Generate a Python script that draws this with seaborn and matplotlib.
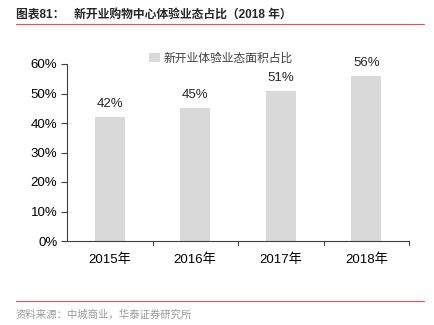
import matplotlib
matplotlib.use("Agg")
import matplotlib.pyplot as plt
import seaborn as sns
import pandas as pd
from matplotlib.lines import Line2D
from matplotlib.ticker import PercentFormatter

categories = ["2015年", "2016年", "2017年", "2018年"]
values = [0.42, 0.45, 0.51, 0.56]
series_name = "新开业体验业态面积占比"
title = "图表81：   新开业购物中心体验业态占比（2018 年）"
source = "资料来源：中城商业，华泰证券研究所"

sns.set_theme(style="white")
plt.rcParams['font.family'] = ['Liberation Sans', 'Noto Sans CJK SC', 'DejaVu Sans']

df = pd.DataFrame({"year": categories, "share": values})

fig = plt.figure(figsize=(4.34, 3.25), dpi=100)
ax = fig.add_axes([67/434, 1-241/325, (409-67)/434, (241-64)/325])

sns.barplot(data=df, x="year", y="share", color="#d9d9d9", width=0.35,
            saturation=1, ax=ax, label=series_name, edgecolor="none")

ax.set_ylim(0, 0.6)
ax.set_xlim(-0.5, 3.5)
ax.yaxis.set_major_formatter(PercentFormatter(1.0, decimals=0))
ax.set_yticks([0, 0.1, 0.2, 0.3, 0.4, 0.5, 0.6])
ax.set_xlabel("")
ax.set_ylabel("")
for s in ["top", "right"]:
    ax.spines[s].set_visible(False)
for s in ["left", "bottom"]:
    ax.spines[s].set_color("#404040")
    ax.spines[s].set_linewidth(0.8)

ax.tick_params(axis="y", left=True, length=4, width=0.8, color="#404040",
               labelsize=9.5, labelcolor="black", pad=3)
ax.set_xticks([0, 1, 2, 3])
ax.set_xticklabels(categories)
ax.tick_params(axis="x", bottom=False, labelsize=9.5, labelcolor="black", pad=3)
for xb in [0.5, 1.5, 2.5, 3.5]:
    ax.plot([xb, xb], [0, -0.012], color="#404040", lw=0.8, clip_on=False,
            transform=ax.transData)

for c in ax.containers:
    ax.bar_label(c, labels=[f"{v*100:.0f}%" for v in values], padding=5,
                 fontsize=9.5, clip_on=False)

leg = ax.legend(loc="upper center", bbox_to_anchor=(0.45, 1.13), frameon=False,
                handlelength=0.9, handleheight=0.9,
                handletextpad=0.3, prop={"family": ["Noto Sans CJK SC"], "size": 8.5})
for t in leg.get_texts():
    t.set_color("#404040")

fig.text(16/434, 1-16/325, title, fontsize=8.5, fontweight="bold",
         va="center", ha="left", family=["Liberation Sans", "Noto Sans CJK SC"])
fig.add_artist(Line2D([16/434, 424/434], [1-24/325, 1-24/325], color="#e8504a", lw=0.8))
fig.add_artist(Line2D([16/434, 424/434], [1-301/325, 1-301/325], color="#e8504a", lw=0.8))
fig.text(16/434, 1-315/325, source, fontsize=7.5, color="#9a9a9a",
         va="center", ha="left", family=["Noto Sans CJK SC"])

fig.savefig("out.png", dpi=100)
